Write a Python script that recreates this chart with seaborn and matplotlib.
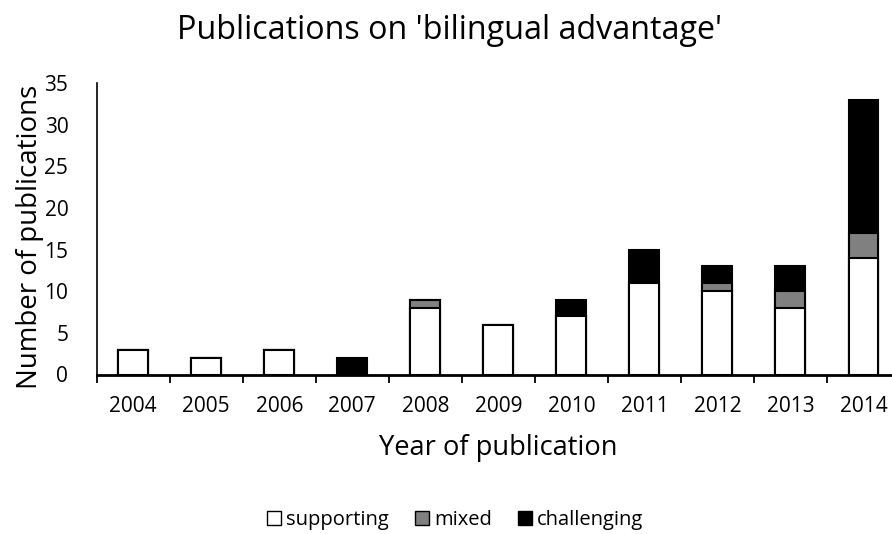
import pandas as pd
import numpy as np
import matplotlib
matplotlib.use('Agg')
import matplotlib.pyplot as plt
import seaborn as sns
from matplotlib.patches import Patch

years = ['2004', '2005', '2006', '2007', '2008', '2009', '2010', '2011', '2012', '2013', '2014']
supporting = [3, 2, 3, 0, 8, 6, 7, 11, 10, 8, 14]
mixed = [0, 0, 0, 0, 1, 0, 0, 0, 1, 2, 3]
challenging = [0, 0, 0, 2, 0, 0, 2, 4, 2, 3, 16]

df = pd.DataFrame({'year': years, 'supporting': supporting,
                   'mixed': mixed, 'challenging': challenging})
# cumulative heights for stacking (draw tallest first)
df['lvl1'] = df['supporting']
df['lvl2'] = df['supporting'] + df['mixed']
df['lvl3'] = df['lvl2'] + df['challenging']

sns.set_theme(style='white')
plt.rcParams['font.family'] = ['Open Sans', 'DejaVu Sans']
plt.rcParams['text.color'] = 'black'
plt.rcParams['axes.labelcolor'] = 'black'
plt.rcParams['xtick.color'] = 'black'
plt.rcParams['ytick.color'] = 'black'

fig = plt.figure(figsize=(8.92, 5.34), dpi=100)
W, H = 892, 534
left, right, top, bottom = 96.7, 900, 83, 374.5
ax = fig.add_axes([left / W, 1 - bottom / H, (right - left) / W, (bottom - top) / H])

bw = 0.41
sns.barplot(data=df, x='year', y='lvl3', color='black', edgecolor='black',
            linewidth=1.5, width=bw, saturation=1, ax=ax)
sns.barplot(data=df, x='year', y='lvl2', color='#808080', edgecolor='black',
            linewidth=1.5, width=bw, saturation=1, ax=ax)
sns.barplot(data=df, x='year', y='lvl1', color='white', edgecolor='black',
            linewidth=1.5, width=bw, saturation=1, ax=ax)

ax.set_xlim(-0.5, 10.5)
ax.set_ylim(0, 35)
ax.set_yticks(range(0, 36, 5))
ax.tick_params(axis='y', left=False, length=0, pad=20.4, labelsize=15)
ax.tick_params(axis='x', which='major', bottom=False, length=0, pad=15.5, labelsize=15)
ax.set_xticks(np.arange(-0.5, 11, 1), minor=True)
ax.tick_params(axis='x', which='minor', bottom=True, length=6, width=1.3,
               color='black', direction='out')

for s in ['top', 'right']:
    ax.spines[s].set_visible(False)
ax.spines['left'].set_color('black')
ax.spines['left'].set_linewidth(1.2)
ax.spines['bottom'].set_color('black')
ax.spines['bottom'].set_linewidth(2)

ax.set_xlabel('Year of publication', fontsize=19.6)
ax.xaxis.set_label_coords(0.5, -(455 - bottom) / (bottom - top))
ax.xaxis.label.set_va('baseline')
ax.set_ylabel('Number of publications', fontsize=19.9)
ax.yaxis.set_label_coords(-(left - 30) / (right - left), (bottom - 237) / (bottom - top))
ax.yaxis.label.set_va('center')

fig.text(450 / W, 1 - 39.3 / H, "Publications on 'bilingual advantage'", fontsize=23.2,
         ha='center', va='baseline')

handles = [Patch(facecolor='white', edgecolor='black', label='supporting'),
           Patch(facecolor='#808080', edgecolor='black', label='mixed'),
           Patch(facecolor='black', edgecolor='black', label='challenging')]
fig.legend(handles=handles, loc='center', bbox_to_anchor=(455 / W, 1 - 520 / H), ncol=3,
           frameon=False, fontsize=14.5, handlelength=0.7, handleheight=0.7,
           handletextpad=0.25, columnspacing=1.3, borderpad=0)

fig.savefig('out.png', dpi=100)
